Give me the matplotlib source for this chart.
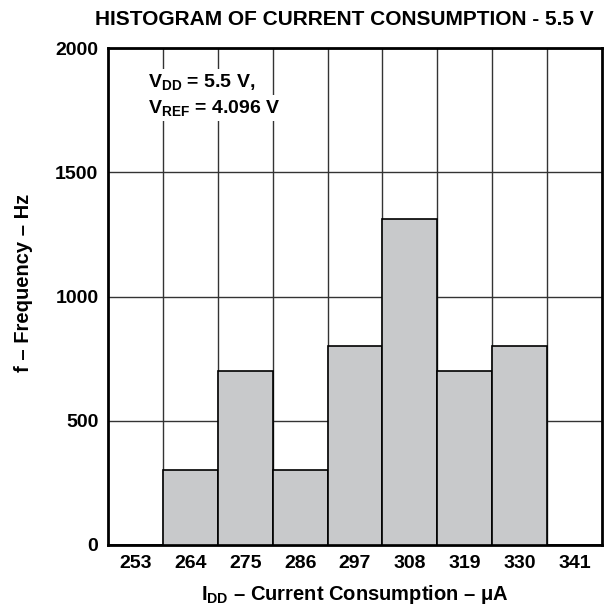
import numpy as np
import matplotlib
matplotlib.use('Agg')
import matplotlib.pyplot as plt

plt.rcParams['font.family'] = ['Liberation Sans', 'DejaVu Sans']
plt.rcParams['font.weight'] = 'bold'
plt.rcParams['mathtext.fontset'] = 'custom'
plt.rcParams['mathtext.rm'] = 'Liberation Sans:bold'
plt.rcParams['mathtext.bf'] = 'Liberation Sans:bold'
plt.rcParams['mathtext.it'] = 'Liberation Sans:bold'

# datos
corrientes = ['253', '264', '275', '286', '297', '308', '319', '330', '341']
frecuencias = [0, 300, 700, 300, 800, 1310, 700, 800, 0]
yticks = [0, 500, 1000, 1500, 2000]

fig = plt.figure(figsize=(6.11, 6.12), dpi=100)
ax = fig.add_axes([0.177, 0.1095, 0.808, 0.812])

pos = np.arange(len(corrientes))
ax.bar(pos, frecuencias, width=1.0, color='#c8c9cb', edgecolor='black',
       linewidth=1.2, zorder=3)

ax.set_xlim(-0.5, len(corrientes) - 0.5)
ax.set_ylim(0, 2000)
ax.set_xticks(pos)
ax.set_xticklabels(corrientes)
ax.set_yticks(yticks)
ax.set_xticks(pos[:-1] + 0.5, minor=True)
ax.grid(True, which='minor', axis='x', color='#333333', linewidth=1.0, zorder=1)
ax.grid(True, which='major', axis='y', color='#333333', linewidth=1.0, zorder=1)
ax.tick_params(which='both', length=0, labelsize=14, pad=7)
for s in ax.spines.values():
    s.set_linewidth(2.0)

ax.set_xlabel(r'I$_{\mathregular{DD}}$ – Current Consumption – μA',
              fontsize=14.5, fontweight='bold', labelpad=8)
ax.set_ylabel('f – Frequency – Hz', fontsize=14.5, fontweight='bold')
ax.yaxis.set_label_coords(-0.152, 0.527)

caja = dict(facecolor='white', edgecolor='none', pad=2)
ax.text(0.081, 0.9215, r'V$_{\mathregular{DD}}$ = 5.5 V,', transform=ax.transAxes,
        fontsize=14, fontweight='bold', va='baseline', zorder=5, bbox=caja)
ax.text(0.081, 0.869, r'V$_{\mathregular{REF}}$ = 4.096 V', transform=ax.transAxes,
        fontsize=14, fontweight='bold', va='baseline', zorder=5, bbox=caja)

fig.text(0.971, 0.968, 'HISTOGRAM OF CURRENT CONSUMPTION - 5.5 V',
         ha='right', va='center', fontsize=15, fontweight='bold')

plt.savefig('out.png', dpi=100)
